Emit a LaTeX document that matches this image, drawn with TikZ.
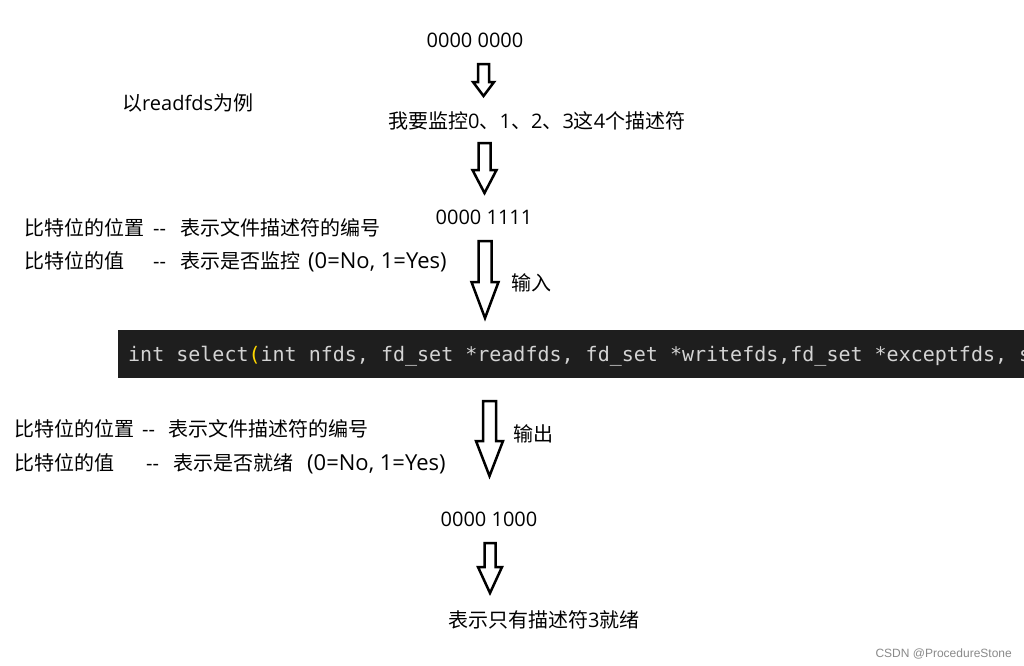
\documentclass[tikz,border=0pt]{standalone}
\usepackage{fontspec}
\setmainfont{Noto Sans CJK SC}
\newfontfamily\codefont{DejaVu Sans Mono}
\newfontfamily\latinfont{Open Sans}
\newfontfamily\wmfont{Liberation Sans}
\definecolor{codebg}{HTML}{1E1E1E}
\definecolor{codefg}{HTML}{D4D4D4}
\definecolor{codeparen}{HTML}{FFD700}
\definecolor{wm}{HTML}{8A8A8A}
\newcommand\blockarrow[6]{%
  \draw[arrowline] (#1-#5,#2) -- (#1+#5,#2) -- (#1+#5,#3) -- (#1+#6,#3) -- (#1,#4) -- (#1-#6,#3) -- (#1-#5,#3) -- cycle;}
\newcommand\latn[1]{{\latinfont #1}}
\newcommand\latbig[1]{{\latinfont\fontsize{22}{24}\selectfont #1}}
\newcommand\dd{\latn{-{}-}}
\begin{document}
\begin{tikzpicture}[x=1pt,y=-1pt,
  txt/.style={inner sep=0pt,font=\fontsize{20}{24}\selectfont},
  arrowline/.style={draw=black,line width=2.5pt,line join=miter,fill=white},
  codetxt/.style={inner sep=0pt,text=codefg,font=\codefont\fontsize{20}{24}\selectfont}]
\useasboundingbox[fill=white] (0,0) rectangle (1024,665);

\node[txt,anchor=base] (b0) at (475,47) {\latn{0000 0000}};
\node[txt,anchor=base west] (ex) at (122,110) {以\latn{readfds}为例};
\node[txt,anchor=base west] (mon) at (388,128) {我要监控\latn{0}、\latn{1}、\latn{2}、\latn{3}这\latn{4}个描述符};
\node[txt,anchor=base] (b1) at (484,224) {\latn{0000 1111}};
\node[txt,anchor=base west] (u1) at (24,235) {\makebox[129pt][l]{比特位的位置}\makebox[27pt][l]{\dd}表示文件描述符的编号};
\node[txt,anchor=base west] (u2) at (24,268) {\makebox[129pt][l]{比特位的值}\makebox[27pt][l]{\dd}表示是否监控\hspace{8pt}\latbig{(0=No, 1=Yes)}};
\node[txt,anchor=base west] (in) at (511,290) {输入};

\fill[codebg] (118,330) rectangle (1024,378);
\begin{scope}
\clip (118,330) rectangle (1024,378);
\node[codetxt,anchor=base west] (code) at (128,361) {\frenchspacing int select{\color{codeparen}(}int nfds, fd\_set *readfds, fd\_set *writefds,fd\_set *exceptfds, s};
\end{scope}

\node[txt,anchor=base west] (l1) at (14,436) {\makebox[128pt][l]{比特位的位置}\makebox[26pt][l]{\dd}表示文件描述符的编号};
\node[txt,anchor=base west] (l2) at (14,470) {\makebox[132pt][l]{比特位的值}\makebox[27pt][l]{\dd}表示是否就绪\hspace{14pt}\latbig{(0=No, 1=Yes)}};
\node[txt,anchor=base west] (out) at (513,441) {输出};
\node[txt,anchor=base] (b2) at (489,526) {\latn{0000 1000}};
\node[txt,anchor=base west] (res) at (448,627) {表示只有描述符\latn{3}就绪};
\node[inner sep=0pt,anchor=base east,text=wm,font=\wmfont\fontsize{12}{14}\selectfont] (wmk) at (1012,657) {CSDN @ProcedureStone};

\blockarrow{483.5}{64}{82}{96}{5.5}{10.5}
\blockarrow{484.5}{143}{170}{193}{6}{12}
\blockarrow{485}{241}{282}{318}{6.5}{13.5}
\blockarrow{489.5}{401}{441}{476}{6.5}{13.5}
\blockarrow{490}{543}{567}{593}{5.5}{12}
\end{tikzpicture}
\end{document}
